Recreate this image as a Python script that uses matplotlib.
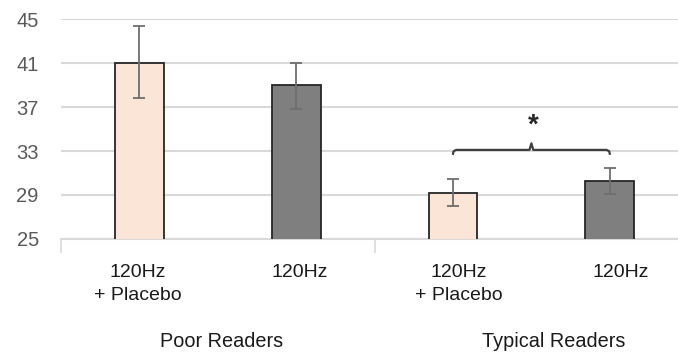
import numpy as np
import matplotlib.pyplot as plt
import matplotlib.transforms as mtransforms

plt.rcParams['font.family'] = ['Liberation Sans', 'DejaVu Sans']

# данные
conditions = ["120Hz\n+ Placebo", "120Hz", "120Hz\n+ Placebo", "120Hz"]
groups = ["Poor Readers", "Typical Readers"]
means = [41.0, 39.0, 29.2, 30.3]
err_up = [3.4, 2.0, 1.25, 1.15]
err_down = [3.2, 2.2, 1.2, 1.2]
bar_colors = ["#fbe5d6", "#7f7f7f", "#fbe5d6", "#7f7f7f"]
y_ticks = [25, 29, 33, 37, 41, 45]
bracket_y = 33.1
star_y = 35.3

fig = plt.figure(figsize=(6.78, 3.53), dpi=100)
ax = fig.add_axes([0.090, 0.323, 0.925, 0.623])

x = np.arange(len(means))
ax.bar(x, means, width=0.31, bottom=0, color=bar_colors, edgecolor="#262626",
       linewidth=1.3, zorder=3)
ax.errorbar(x, means, yerr=[err_down, err_up], fmt='none', ecolor="#6e6e6e",
            elinewidth=1.3, capsize=4, capthick=1.3, zorder=4)

ax.set_ylim(25, 45)
ax.set_xlim(-0.5, 3.5)
ax.set_yticks(y_ticks)
ax.yaxis.grid(True, color="#d9d9d9", lw=1.5, zorder=0)
ax.tick_params(axis='y', length=0, pad=16, labelsize=14.5, labelcolor="#595959")

# подписи чуть сдвинуты вправо, как на исходном рисунке
label_shift = np.array([-0.013, 0.022, 0.035, 0.067])
ax.set_xticks(x + label_shift)
ax.set_xticklabels(conditions, linespacing=1.5)
ax.tick_params(axis='x', length=0, pad=18, labelsize=14, labelcolor="#1a1a1a")
# разделители категорий
ax.set_xticks([-0.5, 1.5, 3.5], minor=True)
ax.tick_params(axis='x', which='minor', length=10, width=1.2, color="#d9d9d9")

for s in ['top', 'right', 'left']:
    ax.spines[s].set_visible(False)
ax.spines['bottom'].set_color("#d9d9d9")
ax.spines['bottom'].set_linewidth(1.5)

# подписи групп
trans = mtransforms.blended_transform_factory(ax.transData, fig.transFigure)
group_x = [0.521, 2.64]
for gx, g in zip(group_x, groups):
    ax.text(gx, 0.017, g, transform=trans, ha='center', va='baseline',
            fontsize=14.3, color="#1a1a1a")

# скобка значимости
x0, x1 = x[2], x[3]
mid = (x0 + x1) / 2
d = 0.02
e = 0.012
bx = [x0, x0 + 0.004, x0 + d, mid - e, mid, mid + e, x1 - d, x1 - 0.004, x1]
by = [bracket_y - 0.35, bracket_y - 0.12, bracket_y, bracket_y,
      bracket_y + 0.6, bracket_y, bracket_y, bracket_y - 0.12,
      bracket_y - 0.35]
ax.plot(bx, by, color="#404040", lw=1.6, zorder=5, solid_joinstyle='round')
ax.text(mid + 0.01, star_y, "*", ha='center', va='center', fontsize=20,
        color="#262626", fontweight='bold')

fig.savefig("out.png", dpi=100)
